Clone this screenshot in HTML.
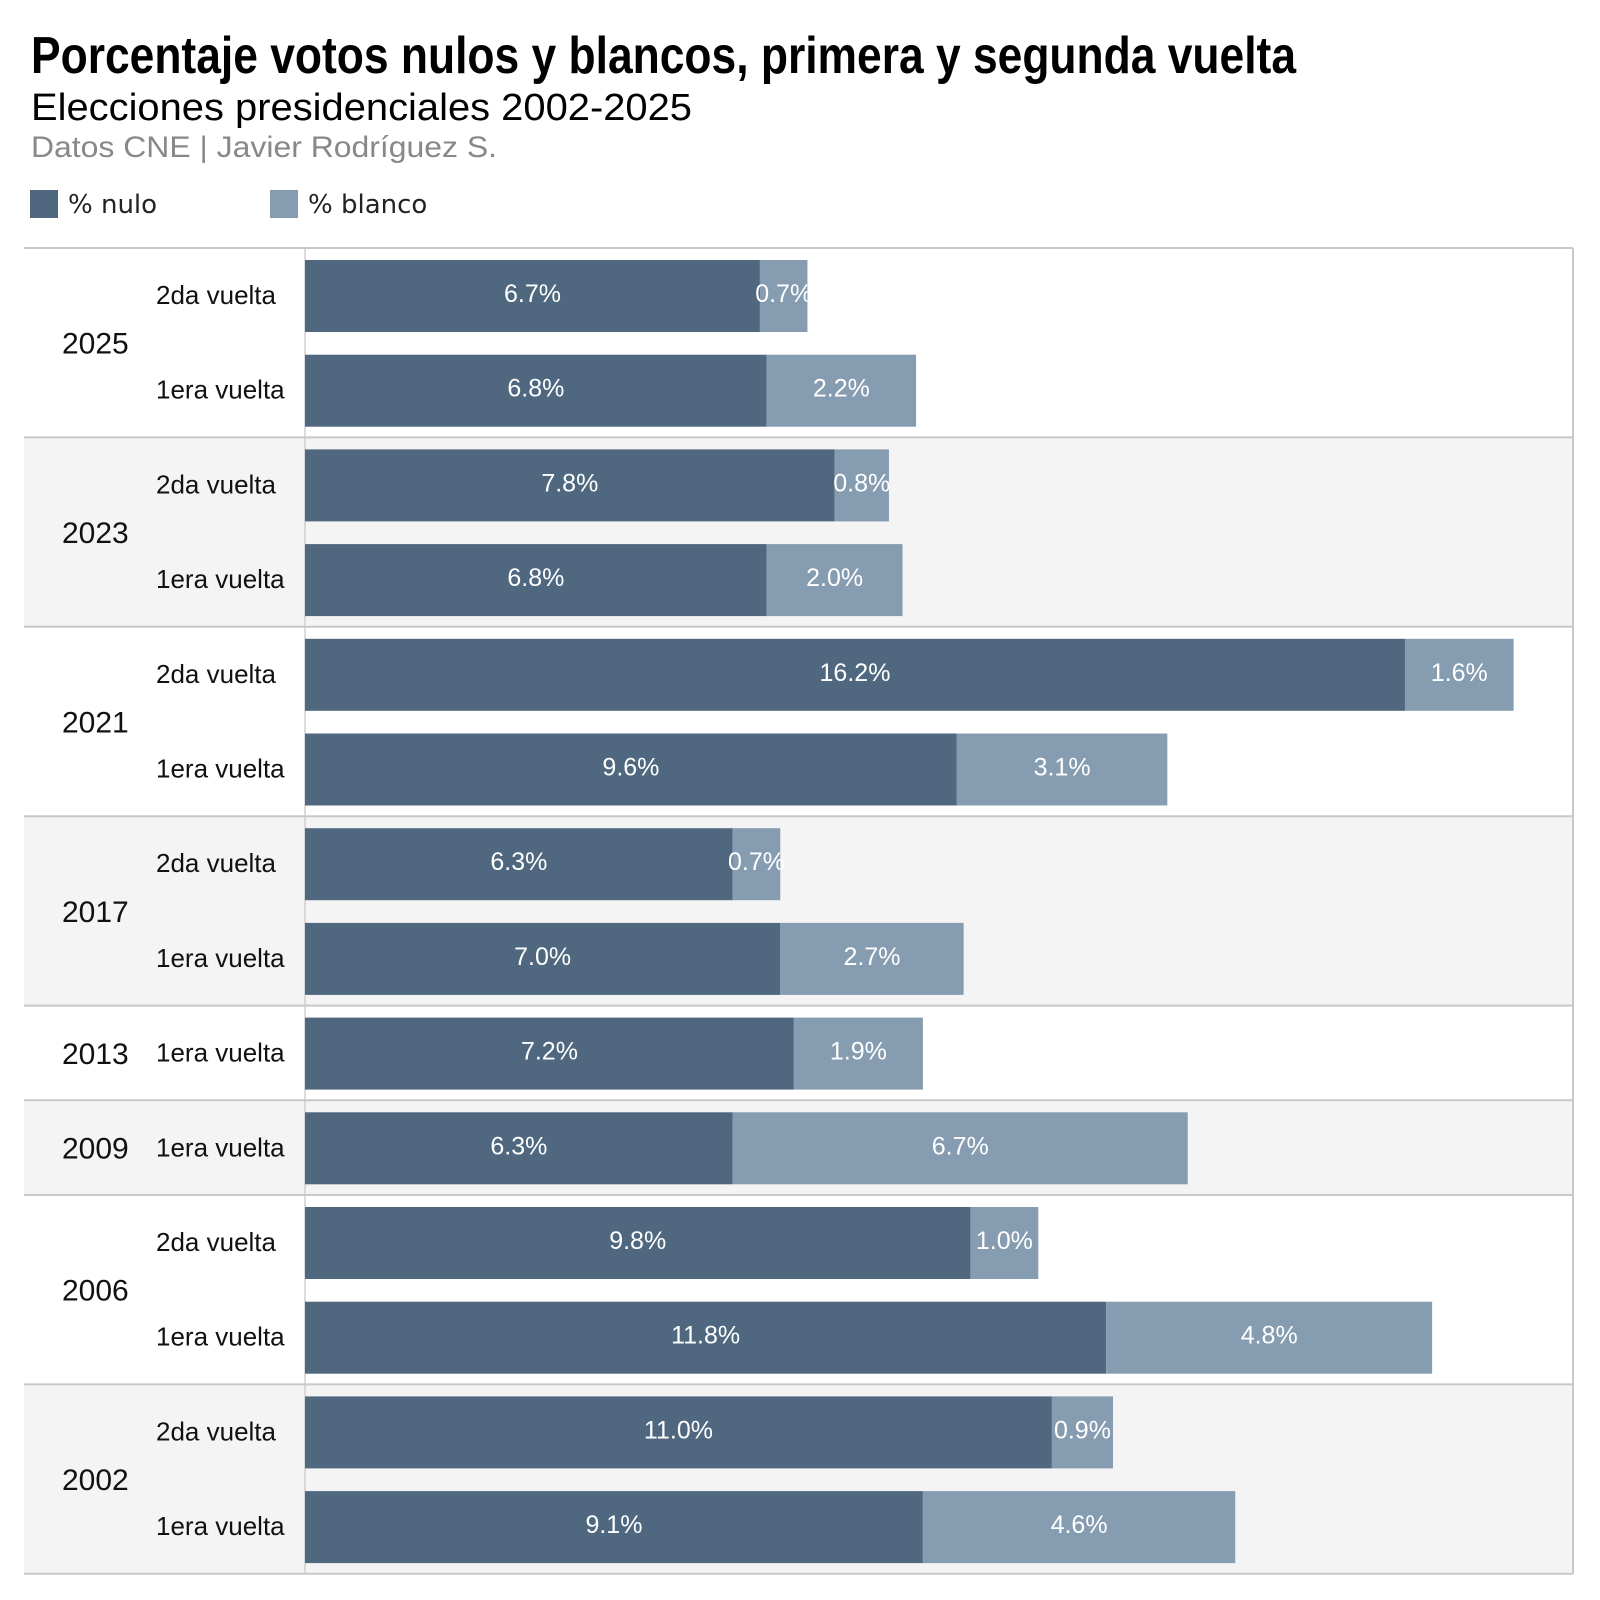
<!DOCTYPE html>
<html><head><meta charset="utf-8"><style>
html,body{margin:0;padding:0;background:#fff;width:1600px;height:1600px;overflow:hidden}
svg{display:block}
</style></head><body>
<svg id="chart" width="1600" height="1600" xmlns="http://www.w3.org/2000/svg">
<text x="31" y="73" font-family="Liberation Sans, sans-serif" font-weight="bold" font-size="52" textLength="1265" lengthAdjust="spacingAndGlyphs" fill="#000">Porcentaje votos nulos y blancos, primera y segunda vuelta</text>
<text x="31" y="120" font-family="Liberation Sans, sans-serif" font-size="38" textLength="661" lengthAdjust="spacingAndGlyphs" fill="#000">Elecciones presidenciales 2002-2025</text>
<text x="31" y="157" font-family="Liberation Sans, sans-serif" font-size="30" textLength="466" lengthAdjust="spacingAndGlyphs" fill="#888">Datos CNE | Javier Rodríguez S.</text>
<g>
<rect x="30" y="190" width="28" height="28" fill="#4f687f"/>
<text x="68" y="213" font-family="DejaVu Sans, sans-serif" font-size="26" fill="#222">% nulo</text>
<rect x="270" y="190" width="28" height="28" fill="#869cb0"/>
<text x="308" y="213" font-family="DejaVu Sans, sans-serif" font-size="26" fill="#222">% blanco</text>
</g>
<g id="plot"></g>
</svg>
<script>
const years = ["2025","2023","2021","2017","2013","2009","2006","2002"];
const rounds = [["2da vuelta","1era vuelta"],["2da vuelta","1era vuelta"],["2da vuelta","1era vuelta"],["2da vuelta","1era vuelta"],["1era vuelta"],["1era vuelta"],["2da vuelta","1era vuelta"],["2da vuelta","1era vuelta"]];
const nulo = [[6.7,6.8],[7.8,6.8],[16.2,9.6],[6.3,7.0],[7.2],[6.3],[9.8,11.8],[11.0,9.1]];
const blanco = [[0.7,2.2],[0.8,2.0],[1.6,3.1],[0.7,2.7],[1.9],[6.7],[1.0,4.8],[0.9,4.6]];

const NS="http://www.w3.org/2000/svg";
const g=document.getElementById('plot');
const X0=305, PX=67.9, TOP=248, SLOT=94.7, LEFT=24, RIGHT=1573;
const x=v=>X0+v*PX;
function mk(t,a){const e=document.createElementNS(NS,t);for(const k in a)e.setAttribute(k,a[k]);return e;}
let slot=0;
const bg=mk('g',{}); const fg=mk('g',{});
g.appendChild(bg); g.appendChild(fg);
years.forEach((yr,gi)=>{
  const n=rounds[gi].length;
  const y0=TOP+slot*SLOT, h=n*SLOT;
  const r=mk('rect',{x:LEFT,y:y0,width:RIGHT-LEFT,height:h,fill:gi%2?'#f4f4f4':'#fff'});
  
  
  bg.appendChild(r);
  const ln=mk('line',{x1:LEFT,x2:RIGHT,y1:y0,y2:y0,stroke:'#c8c8c8','stroke-width':2});
  
  
  fg.appendChild(ln);
  const yt=mk('text',{x:62,y:y0+h/2+11,'font-family':'Liberation Sans, sans-serif','font-size':30,fill:'#111'});
  yt.textContent=yr;
  
  
  fg.appendChild(yt);
  rounds[gi].forEach((rd,ri)=>{
    const by=TOP+slot*SLOT+12, bh=72;
    const lt=mk('text',{x:156,y:by+bh/2+8,'font-family':'Liberation Sans, sans-serif','font-size':26,fill:'#111'});
    lt.textContent=rd;
    
    
    fg.appendChild(lt);
    const nv=nulo[gi][ri], bv=blanco[gi][ri];
    const b1=mk('rect',{x:x(0),y:by,width:x(nv)-x(0),height:bh,fill:'#4f687f'});
    
    
    fg.appendChild(b1);
    const b2=mk('rect',{x:x(nv),y:by,width:x(nv+bv)-x(nv),height:bh,fill:'#869cb0'});
    
    
    fg.appendChild(b2);
    const t1=mk('text',{x:(x(0)+x(nv))/2,y:by+bh/2+6,'text-anchor':'middle','font-family':'Liberation Sans, sans-serif','font-size':25,fill:'#fff'});
    t1.textContent=nv.toFixed(1)+'%';
    
    
    fg.appendChild(t1);
    const t2=mk('text',{x:(x(nv)+x(nv+bv))/2,y:by+bh/2+6,'text-anchor':'middle','font-family':'Liberation Sans, sans-serif','font-size':25,fill:'#fff'});
    t2.textContent=bv.toFixed(1)+'%';
    
    
    fg.appendChild(t2);
    slot++;
  });
});
const yEnd=TOP+slot*SLOT;
const bl=mk('line',{x1:LEFT,x2:RIGHT,y1:yEnd,y2:yEnd,stroke:'#c8c8c8','stroke-width':2});


fg.appendChild(bl);
const rb=mk('line',{x1:RIGHT,x2:RIGHT,y1:TOP,y2:yEnd,stroke:'#c8c8c8','stroke-width':2});


fg.appendChild(rb);
const ax=mk('line',{x1:X0,x2:X0,y1:TOP,y2:yEnd,stroke:'#d0d0d0','stroke-width':1.5});


fg.insertBefore(ax,fg.firstChild);
</script>
</body></html>
